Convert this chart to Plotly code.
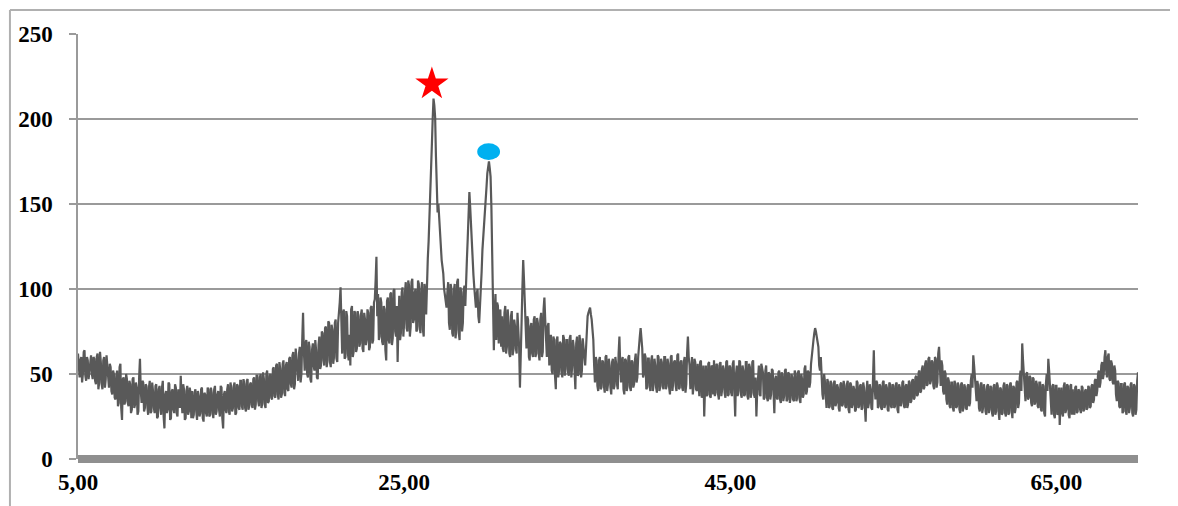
import plotly.graph_objects as go

# ---- data ----
two_theta_start = 5.0
two_theta_step = 0.1
# intensities at 5.0, 5.1, 5.2 ... 70.0
intensity = [
    62,48,60,50,64,46,58,52,61,47,      # 5
    59,44,62,45,57,41,60,47,55,42,      # 6
    54,38,50,35,52,33,56,23,48,34,      # 7
    47,31,44,29,48,32,42,28,59,33,      # 8
    45,30,43,26,46,28,40,27,44,25,      # 9
    43,26,46,18,40,29,44,24,41,27,      # 10
    42,25,38,49,27,41,24,43,28,39,      # 11
    40,26,41,23,37,27,42,22,38,25,      # 12
    41,26,39,24,43,28,40,25,42,18,      # 13
    40,27,44,26,42,30,45,27,43,29,      # 14
    46,29,44,28,47,31,45,30,48,32,      # 15
    49,31,50,33,47,30,52,34,50,35,      # 16
    54,36,56,35,53,38,58,37,57,40,      # 17
    60,42,63,44,58,46,66,50,86,52,      # 18
    70,48,66,45,68,52,64,47,72,55,      # 19
    74,55,78,58,80,54,76,60,82,57,      # 20
    85,101,62,88,60,84,58,55,90,63,     # 21
    86,65,84,68,88,63,82,70,86,66,      # 22
    90,70,94,119,97,72,92,67,88,58,     # 23
    95,68,98,71,100,72,57,96,74,101,    # 24
    80,104,75,102,78,106,82,100,76,103, # 25
    74,104,72,98,111,128,151,185,212,201,   # 26
    156,150,132,117,109,95,89,104,76,100,   # 27
    72,103,76,106,70,98,80,102,111,130,     # 28
    157,135,117,101,89,100,80,98,123,140,   # 29
    152,168,175,166,121,64,97,92,68,88,     # 30
    84,63,90,66,80,60,87,64,78,62,      # 31
    74,42,80,117,90,65,82,58,80,60,     # 32
    84,62,80,58,86,63,95,70,78,55,      # 33
    73,50,70,41,72,52,68,48,71,53,      # 34
    70,49,73,54,66,41,72,50,69,52,      # 35
    67,55,78,86,89,82,70,45,58,40,      # 36
    60,42,57,39,61,44,55,38,59,43,      # 37
    56,41,72,45,60,38,58,43,61,40,      # 38
    57,44,62,48,70,77,65,50,60,42,      # 39
    59,40,61,44,55,39,60,42,57,41,      # 40
    60,43,56,38,61,45,58,40,62,42,      # 41
    58,40,60,44,72,55,57,38,59,41,      # 42
    56,37,58,40,25,55,38,57,36,54,      # 43
    58,39,55,35,57,41,53,36,58,38,      # 44
    54,37,58,25,55,40,57,36,52,38,      # 45
    57,35,54,39,58,36,25,52,38,56,      # 46
    51,36,55,34,50,38,52,27,49,35,      # 47
    52,33,49,37,53,35,50,36,48,34,      # 48
    50,36,52,33,47,38,55,40,51,45,      # 49
    62,70,77,72,66,52,48,35,46,30,      # 50
    45,31,44,29,46,33,42,28,45,32,      # 51
    43,30,46,27,44,32,41,29,45,31,      # 52
    44,30,42,22,46,33,41,29,64,35,      # 53
    45,31,43,29,46,32,42,28,44,30,      # 54
    43,31,45,27,42,33,46,30,44,32,      # 55
    45,34,47,36,49,38,52,40,55,42,      # 56
    58,44,60,46,57,41,59,45,66,43,      # 57
    55,38,50,32,46,30,45,28,44,31,      # 58
    43,27,45,30,42,29,44,33,50,61,      # 59
    48,34,43,28,45,30,41,26,44,29,      # 60
    42,25,44,28,43,23,41,27,45,25,      # 61
    43,27,45,24,42,30,46,33,52,68,      # 62
    50,34,51,36,48,31,47,33,44,30,      # 63
    45,28,43,25,50,59,42,26,44,24,      # 64
    43,27,20,42,25,45,29,43,24,44,      # 65
    41,26,43,28,40,27,42,29,41,30,      # 66
    42,31,44,35,47,40,52,45,57,50,      # 67
    64,48,62,46,56,44,52,34,45,30,      # 68
    44,28,45,26,42,30,45,25,43,29,      # 69
    51,                                 # 70
]
# intensities at the half steps 5.05, 5.15 ... 69.95
intensity_half = [
    50,58,45,63,49,60,47,55,50,60,      # 5
    46,60,41,63,44,58,42,61,45,56,      # 6
    40,52,36,49,31,54,30,47,32,50,      # 7
    33,46,27,47,30,45,26,48,40,46,      # 8
    28,44,31,42,27,45,30,43,24,41,      # 9
    30,42,25,38,27,45,23,40,29,44,      # 10
    27,41,30,36,44,23,40,26,42,24,      # 11
    24,39,28,40,25,41,24,39,27,42,      # 12
    25,42,27,41,26,38,29,43,24,38,      # 13
    29,41,28,45,28,43,26,44,30,46,      # 14
    31,47,30,46,29,44,32,47,29,49,      # 15
    34,48,30,51,32,50,33,49,36,53,      # 16
    37,55,38,57,36,56,39,55,41,59,      # 17
    44,61,41,65,47,62,45,70,64,68,      # 18
    50,69,47,64,55,70,48,67,53,75,      # 19
    58,77,54,81,57,79,56,80,59,80,      # 20
    92,70,86,59,87,62,73,88,60,87,      # 21
    63,87,66,85,65,86,67,88,64,89,      # 22
    68,92,105,84,70,95,69,90,64,93,     # 23
    70,97,67,99,75,90,80,70,98,72,      # 24
    98,77,105,72,104,80,98,75,105,78,   # 25
    100,76,103,85,118,140,168,200,208,178,  # 26
    145,140,125,113,100,92,98,80,103,74,    # 27
    99,71,104,74,101,75,99,90,118,145,      # 28
    148,125,108,94,97,84,90,110,132,146,    # 29
    160,172,171,148,105,85,70,90,85,66,     # 30
    65,86,62,88,62,84,61,82,65,86,      # 31
    66,70,100,105,75,84,60,78,62,82,    # 32
    60,83,62,82,60,88,82,60,80,70,      # 33
    52,72,49,70,48,69,51,73,49,70,      # 34
    51,71,48,70,52,68,49,73,48,71,      # 35
    60,68,84,88,85,76,55,60,43,58,      # 36
    41,58,43,60,40,59,42,57,41,60,      # 37
    44,62,55,58,41,59,40,60,42,58,      # 38
    42,58,45,60,72,70,48,62,41,59,      # 39
    43,58,40,59,42,61,40,59,43,60,      # 40
    41,59,42,60,40,57,43,61,41,57,      # 41
    42,57,39,62,60,41,60,43,57,40,      # 42
    39,57,36,55,42,37,56,37,55,38,      # 43
    37,56,38,56,37,55,39,57,37,55,      # 44
    39,56,40,50,37,58,38,55,37,57,      # 45
    37,56,36,57,38,48,40,55,37,53,      # 46
    35,52,36,51,35,53,40,47,36,51,      # 47
    35,51,34,52,34,51,33,50,35,52,      # 48
    34,51,35,50,36,53,38,52,42,56,      # 49
    66,74,75,68,55,60,38,50,33,47,      # 50
    30,46,30,45,31,44,30,44,31,46,      # 51
    31,44,29,45,30,43,28,46,30,43,      # 52
    29,45,31,40,30,44,30,47,42,46,      # 53
    30,44,30,45,30,44,29,45,31,44,      # 54
    30,44,29,44,31,45,31,43,30,46,      # 55
    33,46,35,48,37,51,39,53,41,56,      # 56
    43,59,44,58,43,60,42,62,55,58,      # 57
    40,52,35,48,31,45,30,46,30,45,      # 58
    29,44,28,44,30,43,31,46,42,55,      # 59
    36,46,30,44,27,44,28,43,27,43,      # 60
    27,43,26,45,28,42,26,43,27,44,      # 61
    26,44,28,43,27,45,30,48,40,58,      # 62
    36,50,35,49,33,48,32,46,31,45,      # 63
    29,44,27,44,40,52,27,43,26,43,      # 64
    26,42,33,27,43,27,44,26,43,26,      # 65
    28,42,27,41,29,43,28,40,29,43,      # 66
    30,43,33,46,37,50,42,55,47,60,      # 67
    52,60,47,58,45,55,38,46,31,44,      # 68
    27,44,28,43,27,44,27,44,26,46,      # 69
]

two_theta, counts = [], []
for i, v in enumerate(intensity):
    two_theta.append(round(two_theta_start + i * two_theta_step, 3))
    counts.append(v)
    if i < len(intensity_half):
        two_theta.append(round(two_theta_start + (i + 0.5) * two_theta_step, 3))
        counts.append(intensity_half[i])

x_tick_values = [5, 25, 45, 65]
x_tick_labels = ["5,00", "25,00", "45,00", "65,00"]
y_tick_values = [0, 50, 100, 150, 200, 250]
y_tick_labels = ["0", "50", "100", "150", "200", "250"]

star_peak_x = [26.7]
star_peak_y = [220.6]
dot_peak_x = [30.18]
dot_peak_y = [180.8]
dot_half_w = 0.70   # half width of ellipse in degrees
dot_half_h = 4.9    # half height of ellipse in counts

# ---- figure ----
LINE = "#595959"
GRID = "#9a9a9a"
FONT = dict(family="Liberation Serif, Times New Roman, serif", size=23,
            color="black", weight="bold")

fig = go.Figure()
fig.add_trace(go.Scatter(x=two_theta, y=counts, mode="lines",
                         line=dict(color=LINE, width=2.2), hoverinfo="skip",
                         showlegend=False))
fig.add_trace(go.Scatter(x=star_peak_x, y=star_peak_y, mode="markers",
                         marker=dict(symbol="star", size=25, color="#ff0000",
                                     line=dict(width=0)),
                         showlegend=False))

shapes = []
# blue ellipse marker
shapes.append(dict(type="circle", xref="x", yref="y",
                   x0=dot_peak_x[0] - dot_half_w, x1=dot_peak_x[0] + dot_half_w,
                   y0=dot_peak_y[0] - dot_half_h, y1=dot_peak_y[0] + dot_half_h,
                   fillcolor="#00b0f0", line=dict(width=0), layer="above"))
# thick horizontal axis bar at 0
shapes.append(dict(type="line", xref="paper", yref="paper", x0=0, x1=1, y0=0, y1=0,
                   line=dict(color="#8f8f8f", width=8), layer="above"))
# outer chart frame (top & left)
shapes.append(dict(type="line", xref="paper", yref="paper",
                   x0=-0.0642, x1=1.06, y0=1.0565, y1=1.0565,
                   line=dict(color="#b0b0b0", width=2)))
shapes.append(dict(type="line", xref="paper", yref="paper",
                   x0=-0.0642, x1=-0.0642, y0=1.0565, y1=-0.13,
                   line=dict(color="#b0b0b0", width=2)))

fig.update_layout(
    width=1170, height=498,
    margin=dict(l=70, r=40, t=26, b=47, autoexpand=False),
    paper_bgcolor="white", plot_bgcolor="white",
    shapes=shapes,
    font=FONT,
    xaxis=dict(range=[5, 70], tickmode="array", tickvals=x_tick_values,
               ticktext=x_tick_labels, showgrid=False, zeroline=False,
               showline=False, ticks="", tickfont=FONT, ticklabelstandoff=7,
               automargin=False),
    yaxis=dict(range=[0, 250], tickmode="array", tickvals=y_tick_values,
               ticktext=y_tick_labels, showgrid=True, gridcolor=GRID,
               gridwidth=1.5, zeroline=False, showline=True, linecolor=GRID,
               linewidth=1.5, ticks="outside", ticklen=7, tickcolor=GRID,
               tickwidth=1.5, tickfont=FONT, ticklabelstandoff=12,
               automargin=False),
)

fig.write_html("out.html")
